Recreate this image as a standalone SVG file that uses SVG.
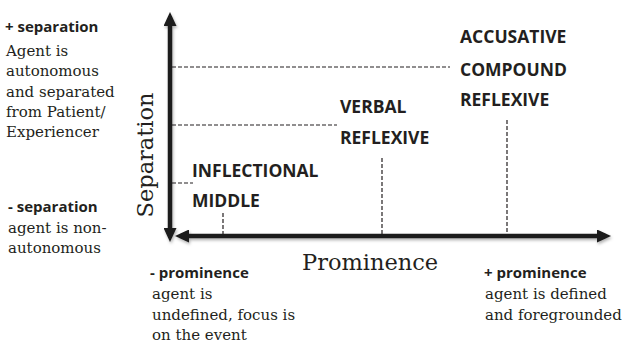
<svg xmlns="http://www.w3.org/2000/svg" width="624" height="343" viewBox="0 0 624 343">
<style>
.b{font-family:"Open Sans","DejaVu Sans",sans-serif;font-weight:700;font-size:17.5px;fill:#231f20}
.bs{font-family:"Open Sans","DejaVu Sans",sans-serif;font-weight:700;font-size:15px;fill:#231f20}
.s{font-family:"DejaVu Serif","Liberation Serif",serif;font-size:15px;fill:#231f20}
.t{font-family:"DejaVu Serif","Liberation Serif",serif;font-size:22.5px;fill:#231f20}
.axis{stroke:#1a1a1a;stroke-width:4.5;fill:none;marker-start:url(#ah);marker-end:url(#ah)}
.dash{stroke:#231f20;stroke-width:1.2;stroke-dasharray:4 2;fill:none}
</style>
<defs>
<marker id="ah" markerUnits="userSpaceOnUse" markerWidth="14" markerHeight="13" viewBox="0 0 14 13" refX="0" refY="6.5" orient="auto-start-reverse">
<path d="M0,0 L14,6.5 L0,13 z" fill="#1a1a1a"/>
</marker>
<filter id="sh" filterUnits="userSpaceOnUse" x="0" y="0" width="624" height="343">
<feDropShadow dx="1" dy="2" stdDeviation="1.5" flood-color="#000" flood-opacity="0.3"/>
</filter>
</defs>
<rect width="624" height="343" fill="#fff"/>
<g id="connectors">
<line class="dash" x1="172" y1="67" x2="450" y2="67"/>
<line class="dash" x1="172" y1="125" x2="337" y2="125"/>
<line class="dash" x1="172" y1="183" x2="193" y2="183"/>
<line class="dash" x1="223" y1="213" x2="223" y2="234"/>
<line class="dash" x1="382" y1="158" x2="382" y2="234"/>
<line class="dash" x1="507" y1="120" x2="507" y2="234"/>
<g filter="url(#sh)">
<line id="x-axis" class="axis" x1="189" y1="236" x2="597" y2="236"/>
<line id="y-axis" class="axis" x1="170" y1="26" x2="170" y2="228"/>
</g>
</g>
<g id="inflectional-middle">
<text class="b" x="192" y="177">INFLECTIONAL</text>
<text class="b" x="192" y="207">MIDDLE</text>
</g>
<g id="verbal-reflexive">
<text class="b" x="340" y="113">VERBAL</text>
<text class="b" x="340" y="144">REFLEXIVE</text>
</g>
<g id="accusative-compound-reflexive">
<text class="b" x="460" y="43">ACCUSATIVE</text>
<text class="b" x="460" y="76">COMPOUND</text>
<text class="b" x="460" y="106">REFLEXIVE</text>
</g>
<g id="separation-label">
<text class="t" transform="translate(153,155) rotate(-90)" text-anchor="middle">Separation</text>
</g>
<g id="prominence-label">
<text class="t" x="302" y="270">Prominence</text>
</g>
<g id="plus-separation">
<text class="bs" x="5" y="32">+ separation</text>
<text class="s" x="6" y="56">Agent is</text>
<text class="s" x="6" y="76">autonomous</text>
<text class="s" x="6" y="97">and separated</text>
<text class="s" x="6" y="117">from Patient/</text>
<text class="s" x="6" y="137">Experiencer</text>
</g>
<g id="minus-separation">
<text class="bs" x="8" y="212">- separation</text>
<text class="s" x="8" y="233">agent is non-</text>
<text class="s" x="8" y="253">autonomous</text>
</g>
<g id="minus-prominence">
<text class="bs" x="150" y="278">- prominence</text>
<text class="s" x="152" y="299">agent is</text>
<text class="s" x="152" y="320">undefined, focus is</text>
<text class="s" x="152" y="340">on the event</text>
</g>
<g id="plus-prominence">
<text class="bs" x="484" y="278">+ prominence</text>
<text class="s" x="485" y="299">agent is defined</text>
<text class="s" x="485" y="320">and foregrounded</text>
</g>
</svg>
